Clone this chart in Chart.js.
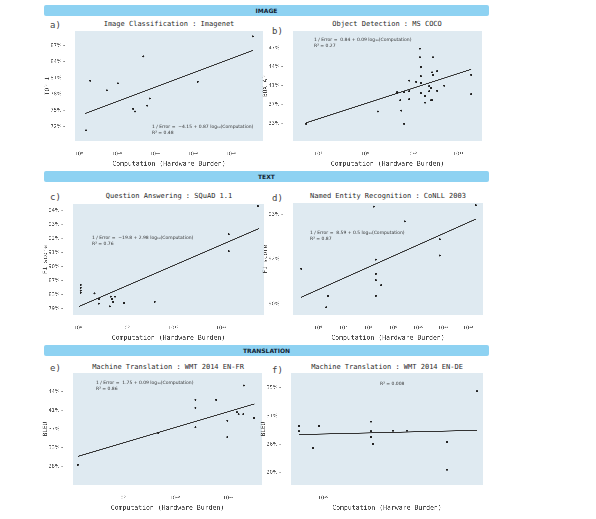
<!DOCTYPE html>
<html><head><meta charset="utf-8">
<script src="https://cdn.jsdelivr.net/npm/chart.js"></script>
<style>
body{margin:0;background:#fff;width:596px;height:519px;position:relative;font-family:'DejaVu Sans Mono',monospace;overflow:hidden}
.ban{position:absolute;left:44px;width:445px;height:11px;background:#8ed2f2;border-radius:2px;font:bold 6px 'DejaVu Sans';color:#123;text-align:center;line-height:11px}
.t{position:absolute;font-size:7px;color:#2a2a2a;white-space:nowrap}
.l{position:absolute;font-size:9px;color:#444}
.an{position:absolute;font:4.5px 'DejaVu Sans';color:#333;line-height:6px;white-space:nowrap;z-index:5}
canvas{position:absolute}
</style></head><body>
<div class="ban" style="top:5px">IMAGE</div>
<div class="ban" style="top:171px">TEXT</div>
<div class="ban" style="top:345px">TRANSLATION</div>
<div class="l" style="left:50px;top:20px">a)</div>
<div class="l" style="left:272px;top:26px">b)</div>
<div class="l" style="left:50px;top:192px">c)</div>
<div class="l" style="left:272px;top:193px">d)</div>
<div class="l" style="left:50px;top:363px">e)</div>
<div class="l" style="left:272px;top:365px">f)</div>
<div class="t" style="left:169px;top:20px;transform:translateX(-50%)">Image Classification : Imagenet</div>
<div class="t" style="left:387px;top:20px;transform:translateX(-50%)">Object Detection : MS COCO</div>
<div class="t" style="left:169px;top:192px;transform:translateX(-50%)">Question Answering : SQuAD 1.1</div>
<div class="t" style="left:388px;top:192px;transform:translateX(-50%)">Named Entity Recognition : CoNLL 2003</div>
<div class="t" style="left:168px;top:363px;transform:translateX(-50%)">Machine Translation : WMT 2014 EN-FR</div>
<div class="t" style="left:387px;top:363px;transform:translateX(-50%)">Machine Translation : WMT 2014 EN-DE</div>
<div class="an" style="left:152px;top:124px">1 / Error = &nbsp;−4.15 + 0.87 log₁₀(Computation)<br>R² = 0.48</div>
<div class="an" style="left:314px;top:37px">1 / Error = &nbsp;0.84 + 0.09 log₁₀(Computation)<br>R² = 0.27</div>
<div class="an" style="left:92px;top:235px">1 / Error = &nbsp;−19.8 + 2.98 log₁₀(Computation)<br>R² = 0.76</div>
<div class="an" style="left:310px;top:230px">1 / Error = &nbsp;8.59 + 0.5 log₁₀(Computation)<br>R² = 0.87</div>
<div class="an" style="left:96px;top:380px">1 / Error = &nbsp;1.75 + 0.09 log₁₀(Computation)<br>R² = 0.86</div>
<div class="an" style="left:380px;top:381px">R² = 0.008</div>
<canvas id="ca"></canvas><canvas id="cb"></canvas><canvas id="cc"></canvas>
<canvas id="cd"></canvas><canvas id="ce"></canvas><canvas id="cf"></canvas>
<script>
// x values are log10(Computation); y values in %
const aX=[9.19,9.3,9.74,10.03,10.7,10.43,10.48,10.8,10.87,12.13,13.58];
const aY=[71.3,80.5,78.7,80.0,85.0,75.3,74.8,75.9,77.2,80.3,88.7];
const aFitX=[9.16,13.58], aFitY=[74.4,86.1];
const aYTicks=[72,75,78,81,84,87], aXTicks=[9,10,11,12,13];

const bX=[7.74,9.28,9.78,9.84,9.69,9.69,9.84,9.76,9.95,9.95,9.95,10.1,10.18,10.18,10.2,10.2,10.2,10.2,10.2,10.29,10.29,10.38,10.38,10.42,10.42,10.44,10.44,10.46,10.46,10.55,10.55,10.7,11.28,11.28];
const bY=[32.9,35.5,35.7,32.9,39.4,39.6,39.6,37.9,39.8,38.1,41.8,41.6,46.9,45.5,44.0,43.9,42.5,41.4,39.4,38.8,37.4,40.9,39.8,40.5,37.9,37.9,43.1,45.5,42.7,43.3,39.9,41.0,42.7,39.2];
const bFitX=[7.74,11.28], bFitY=[33.1,43.6];
const bYTicks=[33,37,41,44,47], bXTicks=[8,9,10,11];

const cX=[8.06,8.06,8.06,8.06,8.35,8.44,8.44,8.69,8.72,8.78,8.67,8.74,8.97,9.61,11.16,11.16,11.77];
const cY=[85.8,85.0,84.2,83.6,83.4,81.8,80.5,82.5,81.8,82.5,79.7,81.0,80.7,81.0,92.3,91.1,94.3];
const cFitX=[8.03,11.79], cFitY=[79.7,92.7];
const cYTicks=[79,83,87,90,91,92,93,94], cXTicks=[8,9,10,11];

const dX=[5.33,6.4,6.33,8.23,8.31,8.31,8.31,8.53,8.31,9.47,10.87,10.87,12.31];
const dY=[91.57,90.36,89.85,93.17,91.98,91.34,91.06,90.84,90.36,92.84,92.44,92.08,93.2];
const dFitX=[5.31,12.31], dFitY=[90.29,92.89];
const dYTicks=[90,92,93], dXTicks=[6,7,8,9,10,11,12];

const eX=[8.18,9.69,10.39,10.39,10.39,10.78,10.99,10.99,11.17,11.2,11.29,11.3,11.49];
const eY=[28.44,36.2,42.7,41.4,37.4,42.7,38.8,35.3,40.6,40.2,40.2,45.0,39.4];
const eFitX=[8.18,11.5], eFitY=[30.7,42.05];
const eYTicks=[28,33,37,41,44], eXTicks=[9,10,11];

const fX=[9.88,9.88,9.95,9.98,10.24,10.24,10.24,10.25,10.35,10.42,10.62,10.62,10.77];
const fY=[29.2,28.3,25.2,29.2,30.0,28.3,27.3,26.05,28.4,28.4,26.4,20.6,34.5];
const fFitX=[9.88,10.77], fFitY=[27.7,28.45];
const fYTicks=[20,26,31,35], fXTicks=[10];

const sup={'0':'⁰','1':'¹','2':'²','3':'³','4':'⁴','5':'⁵','6':'⁶','7':'⁷','8':'⁸','9':'⁹'};
const pow=n=>'10'+String(n).split('').map(c=>sup[c]).join('');
// map a value onto the (unevenly labelled) tick ladder: tick i sits at position i
function pos(v,t){
  let i=0; if(v>=t[t.length-1]) i=t.length-2; else { while(i<t.length-2 && v>t[i+1]) i++; }
  return i+(v-t[i])/(t[i+1]-t[i]);
}
const bgPlug={id:'bg',beforeDraw(c){const a=c.chartArea,x=c.ctx;x.save();x.fillStyle='#dfeaf1';x.fillRect(a.left,a.top,a.right-a.left,a.bottom-a.top);x.restore();}};

function panel(id,rect,X,Y,FX,FY,YT,XT,xr,yr,ylab,xlab){
  const [l,t,r,b]=rect; let W=r-l+36, H=b-t+30;
  const cv=document.getElementById(id);
  cv.style.width=W+'px'; cv.style.height=H+'px';
  cv.width=W; cv.height=H;
  const pts=X.map((x,i)=>({x,y:pos(Y[i],YT)}));
  const fit=FX.map((x,i)=>({x,y:pos(FY[i],YT)}));
  const ch=new Chart(cv,{type:'scatter',
    data:{datasets:[
      {data:pts,pointRadius:1,pointBackgroundColor:'#222',pointBorderWidth:0},
      {data:fit,showLine:true,pointRadius:0,borderColor:'#333',borderWidth:1}]},
    options:{responsive:false,devicePixelRatio:3,animation:false,
      layout:{padding:{top:2,right:4,left:0,bottom:0}},
      plugins:{legend:{display:false},tooltip:{enabled:false}},
      scales:{
        x:{type:'linear',min:xr[0],max:xr[1],grid:{display:false},border:{display:false},
          afterBuildTicks(s){s.ticks=XT.map(v=>({value:v}));},
          ticks:{font:{size:5,family:'DejaVu Sans'},color:'#555',padding:2,maxRotation:0,callback:v=>pow(v)},
          title:{display:true,text:xlab,font:{size:6.5,family:'DejaVu Sans Mono'},color:'#444',padding:{top:1,bottom:0}}},
        y:{type:'linear',min:yr[0],max:yr[1],grid:{display:false},border:{display:false},
          afterBuildTicks(s){s.ticks=YT.map((v,i)=>({value:i}));},
          afterFit(s){s.width=32;},
          ticks:{font:{size:5,family:'DejaVu Sans'},color:'#555',padding:2,callback:(v)=>YT[v]+'% -'},
          title:{display:true,text:ylab,font:{size:6,family:'DejaVu Sans Mono'},color:'#444',padding:1}}
      }},plugins:[bgPlug]});
  for(let k=0;k<2;k++){
    const a=ch.chartArea;
    W+= (r-l)-(a.right-a.left); H+= (b-t)-(a.bottom-a.top);
    ch.resize(W,H);
  }
  const a=ch.chartArea;
  cv.style.left=(l-a.left)+'px'; cv.style.top=(t-a.top)+'px';
}
const XL='Computation (Hardware Burden)';
panel('ca',[75,31,263,143],aX,aY,aFitX,aFitY,aYTicks,aXTicks,[8.9,13.85],[-0.9,5.9],'TOP 1',XL);
panel('cb',[293,31,482,143],bX,bY,bFitX,bFitY,bYTicks,bXTicks,[7.46,11.51],[-0.95,4.9],'BOX AP',XL);
panel('cc',[73,204,264,317],cX,cY,cFitX,cFitY,cYTicks,cXTicks,[7.9,11.9],[-0.45,7.45],'F1 score',XL);
panel('cd',[293,203,483,317],dX,dY,dFitX,dFitY,dYTicks,dXTicks,[5.0,12.6],[-0.25,2.25],'F1 score',XL);
panel('ce',[73,373,262,487],eX,eY,eFitX,eFitY,eYTicks,eXTicks,[8.09,11.64],[-1,5],'BLEU',XL);
panel('cf',[291,373,483,487],fX,fY,fFitX,fFitY,fYTicks,fXTicks,[9.84,10.8],[-0.45,3.52],'BLEU','Computation (Harware Burden)');
</script></body></html>
